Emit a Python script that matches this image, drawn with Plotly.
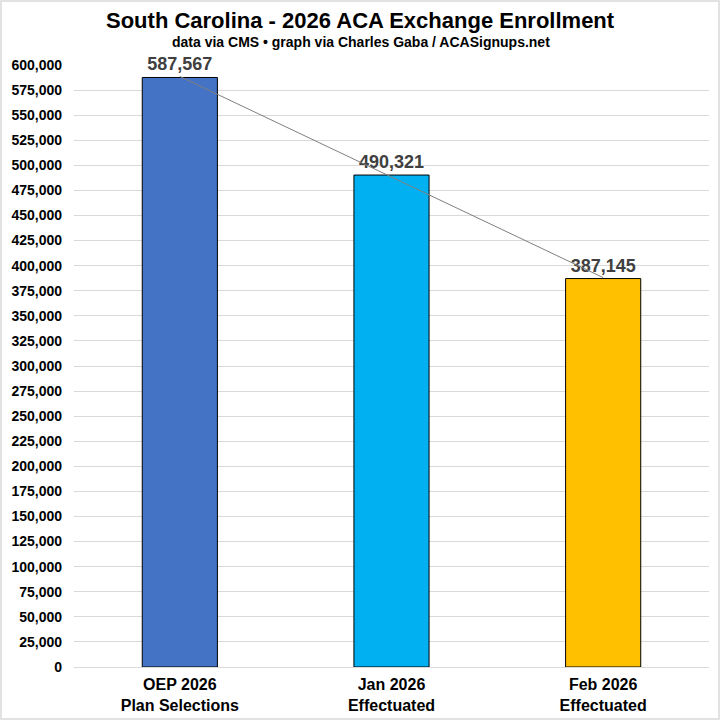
import plotly.graph_objects as go
import numpy as np

categories = ["OEP 2026<br>Plan Selections", "Jan 2026<br>Effectuated", "Feb 2026<br>Effectuated"]
enrollment = [587567, 490321, 387145]
bar_colors = ["#4472C4", "#00B0F0", "#FFC000"]

tick_vals = list(range(0, 600001, 25000))
tick_text = [f"{v:,}" for v in tick_vals]

# linear trendline like the Excel original
xs = np.arange(len(enrollment))
slope, intercept = np.polyfit(xs, enrollment, 1)
trend = slope * xs + intercept

W, H = 721, 721
ml, mr, mt, mb = 74, 12, 65, 54

fig = go.Figure()
fig.add_trace(go.Bar(
    x=categories, y=enrollment,
    marker=dict(color=bar_colors, line=dict(color="#000000", width=1)),
    text=[f"{v:,}" for v in enrollment],
    textposition="outside",
    cliponaxis=False,
    textfont=dict(family="Liberation Sans, Arial", size=18, color="#404040", weight="bold"),
    hoverinfo="skip",
))
fig.add_trace(go.Scatter(
    x=categories, y=trend, mode="lines",
    line=dict(color="#7f7f7f", width=1),
    hoverinfo="skip",
))

pw = W - ml - mr
ph = H - mt - mb
fig.add_shape(type="rect", xref="paper", yref="paper",
              x0=-(ml - 1) / pw, x1=1 + (mr - 2) / pw,
              y0=-(mb - 2) / ph, y1=1 + (mt - 1) / ph,
              line=dict(color="#d9d9d9", width=1.5), layer="below")

# title and subtitle as annotations (positioned in pixels above the plot)
fig.add_annotation(
    text="<b>South Carolina - 2026 ACA Exchange Enrollment</b>",
    xref="paper", yref="paper", x=(W / 2 - ml) / pw, y=1 + (mt - 6) / ph,
    xanchor="center", yanchor="top", showarrow=False,
    font=dict(size=22, color="#000000"),
)
fig.add_annotation(
    text="<b>data via CMS • graph via Charles Gaba / ACASignups.net</b>",
    xref="paper", yref="paper", x=(W / 2 - ml) / pw, y=1 + (mt - 32) / ph,
    xanchor="center", yanchor="top", showarrow=False,
    font=dict(size=14, color="#000000"),
)

fig.update_layout(
    width=W, height=H,
    margin=dict(l=ml, r=mr, t=mt, b=mb, autoexpand=False),
    paper_bgcolor="white", plot_bgcolor="white",
    showlegend=False,
    bargap=0.645,
    font=dict(family="Liberation Sans, Arial", color="#000000"),
    xaxis=dict(
        showgrid=False, showline=True, linecolor="#d9d9d9", linewidth=1,
        tickfont=dict(size=16, color="#000000", weight="bold"),
        ticks="", ticklabelstandoff=3,
        fixedrange=True, automargin=False,
    ),
    yaxis=dict(
        range=[0, 600000], tickvals=tick_vals, ticktext=tick_text,
        showgrid=True, gridcolor="#d9d9d9", gridwidth=1,
        zeroline=False, showline=False, ticks="",
        ticklabelstandoff=11,
        tickfont=dict(size=14, color="#000000", weight="bold"),
        fixedrange=True, automargin=False,
    ),
)

# drop the browser's default body margin so the chart sits at the page corner
fig.write_html("out.html", config={"displayModeBar": False},
               post_script="document.body.style.margin='0';")
